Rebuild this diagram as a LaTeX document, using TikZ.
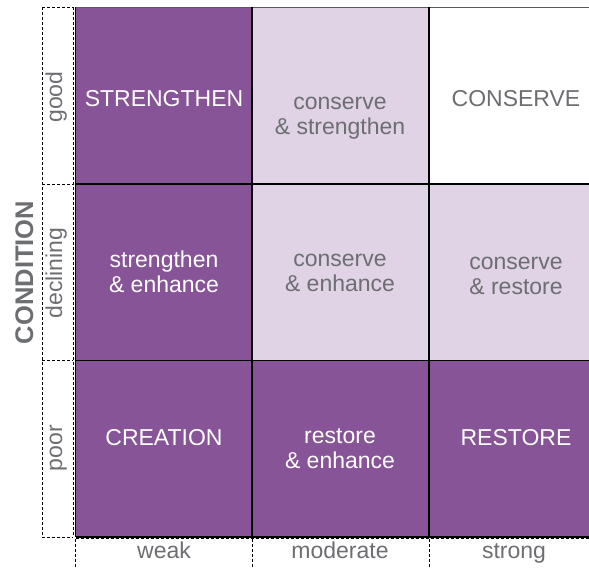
\documentclass[tikz,border=0pt]{standalone}
\usepackage{fontspec}
\setmainfont{Liberation Sans}
\definecolor{plum}{HTML}{865497}
\definecolor{lilac}{HTML}{DFD3E5}
\definecolor{txtgray}{HTML}{6D6E71}
\begin{document}
\begin{tikzpicture}[x=1pt,y=-1pt,
  celltext/.style={font=\fontsize{23}{25}\selectfont, align=center, inner sep=0pt, anchor=base},
  ontext/.style={celltext, text=white},
  offtext/.style={celltext, text=txtgray},
  axislabel/.style={font=\fontsize{23}{25}\selectfont, text=txtgray, inner sep=0pt, anchor=base},
  guide/.style={dash pattern=on 3pt off 2pt, line width=0.9pt},
  gridline/.style={line width=1.2pt}]
\useasboundingbox (0,0) rectangle (589,568);

% cell backgrounds
\fill[plum]  (75.5,7.3) rectangle (252,184);
\fill[lilac] (252,7.3) rectangle (429,184);
\fill[plum]  (75.5,184) rectangle (252,360.5);
\fill[lilac] (252,184) rectangle (589,360.5);
\fill[plum]  (75.5,360.5) rectangle (589,537);

% grid lines
\draw[gridline, black!65] (75.5,7.3) -- (589,7.3);
\draw[gridline] (75.5,184) -- (589,184);
\draw[gridline] (75.5,360.5) -- (589,360.5);
\draw[gridline] (75.5,537) -- (589,537);
\draw[gridline] (75.5,7.3) -- (75.5,537);
\draw[gridline] (252,7.3) -- (252,537);
\draw[gridline] (429,7.3) -- (429,537);

% dashed guides for the row labels
\draw[guide] (42,7.3) -- (42,537);
\draw[guide] (73.3,7.3) -- (73.3,537);
\foreach \yy in {7.3,184,360.5,537} \draw[guide] (42,\yy) -- (73.3,\yy);

% dashed guides for the column labels
\draw[guide] (75.5,538.8) -- (589,538.8);
\foreach \xx in {75.5,252,429} \draw[guide] (\xx,538.8) -- (\xx,568);

% cell texts (two-line texts are placed by their last baseline)
\node[ontext]  (strengthen) at (164,106) {STRENGTHEN};
\node[offtext] (consstr)    at (340,134) {conserve\\\& strengthen};
\node[offtext] (conserve)   at (516,106) {CONSERVE};
\node[ontext]  (strenh)     at (164,292) {strengthen\\\& enhance};
\node[offtext] (consenh)    at (340,291) {conserve\\\& enhance};
\node[offtext] (consres)    at (516,294) {conserve\\\& restore};
\node[ontext]  (creation)   at (164,445) {CREATION};
\node[ontext]  (resenh)     at (340,468) {restore\\\& enhance};
\node[ontext]  (restore)    at (516,445) {RESTORE};

% row labels
\node[axislabel, rotate=90] (good)      at (62,97)  {good};
\node[axislabel, rotate=90] (declining) at (62,273) {declining};
\node[axislabel, rotate=90] (poor)      at (62,448) {poor};
\node[font=\bfseries\fontsize{25.5}{27}\selectfont, text=txtgray, inner sep=0pt, anchor=base, rotate=90] (condition) at (33,272.5) {CONDITION};

% column labels
\node[axislabel] (weak)     at (164,558) {weak};
\node[axislabel] (moderate) at (340,558) {moderate};
\node[axislabel] (strong)   at (514,558) {strong};
\end{tikzpicture}
\end{document}
